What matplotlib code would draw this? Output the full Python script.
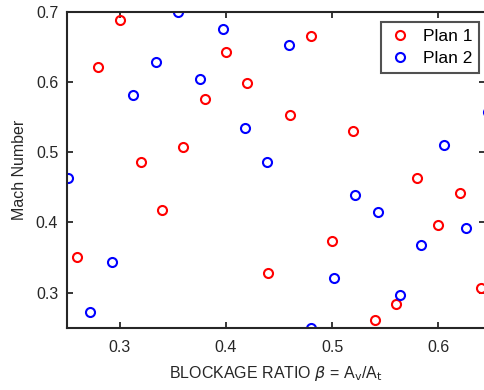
import matplotlib
matplotlib.use('Agg')
import matplotlib.pyplot as plt

# ── DATA ─────────────────────────────────────────────────────────────────────
plan1_x = [0.26, 0.28, 0.30, 0.32, 0.34, 0.36, 0.38, 0.40, 0.42, 0.44,
           0.46, 0.48, 0.50, 0.52, 0.54, 0.56, 0.58, 0.60, 0.62, 0.64]
plan1_y = [0.351, 0.621, 0.689, 0.486, 0.418, 0.508, 0.576, 0.643, 0.599, 0.328,
           0.553, 0.666, 0.374, 0.531, 0.261, 0.284, 0.463, 0.396, 0.442, 0.306]

plan2_x = [0.251, 0.272, 0.293, 0.313, 0.334, 0.355, 0.376, 0.397, 0.418, 0.439,
           0.459, 0.480, 0.502, 0.522, 0.543, 0.564, 0.584, 0.605, 0.626, 0.647]
plan2_y = [0.463, 0.273, 0.344, 0.581, 0.629, 0.700, 0.605, 0.676, 0.534, 0.486,
           0.653, 0.250, 0.321, 0.439, 0.415, 0.297, 0.368, 0.511, 0.392, 0.558]

x_ticks = [0.3, 0.4, 0.5, 0.6]
y_ticks = [0.3, 0.4, 0.5, 0.6, 0.7]

plt.rcParams['font.family'] = ['Liberation Sans', 'DejaVu Sans']
plt.rcParams['mathtext.fontset'] = 'dejavusans'
dark = '#262626'

fig = plt.figure(figsize=(4.84, 3.9), dpi=100)
ax = fig.add_axes([0.1374, 0.1597, 0.8647, 0.8095])

ax.plot(plan1_x, plan1_y, 'o', ls='none', mfc='none', mec='#ff0000',
        mew=1.5, ms=6.5, label='Plan 1')
ax.plot(plan2_x, plan2_y, 'o', ls='none', mfc='none', mec='#0000ff',
        mew=1.5, ms=6.5, label='Plan 2')

ax.set_xlim(0.25, 0.644)
ax.set_ylim(0.25, 0.70)
ax.set_xticks(x_ticks)
ax.set_yticks(y_ticks)
ax.set_xticklabels([f'{t:.1f}' for t in x_ticks])
ax.set_yticklabels([f'{t:.1f}' for t in y_ticks])

ax.tick_params(direction='in', length=4, width=1.3, colors=dark,
               labelsize=11.5, top=True, right=True)
ax.tick_params(axis='x', pad=9)
ax.tick_params(axis='y', pad=6)
for s in ax.spines.values():
    s.set_linewidth(1.5)
    s.set_color(dark)

ax.set_xlabel(r'BLOCKAGE RATIO $\beta$ = A$_\mathrm{v}$/A$_\mathrm{t}$',
              fontsize=11.5, color=dark, labelpad=6)
ax.set_ylabel('Mach Number', fontsize=11.5, color=dark, labelpad=6)

leg = ax.legend(loc='upper right', bbox_to_anchor=(0.986, 0.968), fontsize=12.5,
                frameon=True, fancybox=False, handletextpad=0.6, borderaxespad=0,
                borderpad=0.4, handlelength=1.4, labelspacing=0.4)
leg.get_frame().set_edgecolor(dark)
leg.get_frame().set_linewidth(1.5)

fig.savefig('out.png', dpi=100)
